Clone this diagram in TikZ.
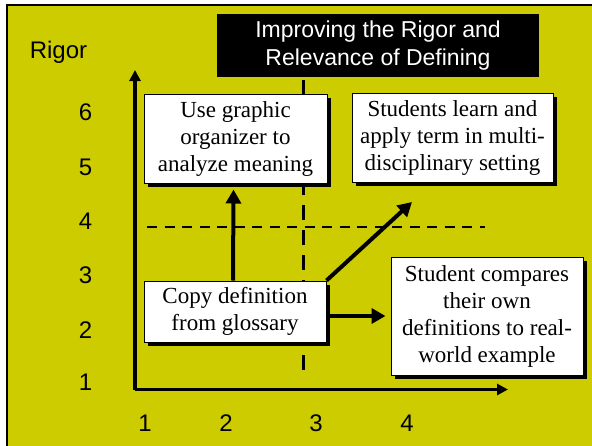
\documentclass[tikz,border=0pt]{standalone}
\usepackage{fontspec}
\setmainfont{Liberation Serif}
\setsansfont{Liberation Sans}
\usetikzlibrary{arrows.meta,shadows}
\definecolor{bgyellow}{RGB}{204,204,0}
\begin{document}
\begin{tikzpicture}[x=1pt,y=-1pt,
  box/.style={draw=black, line width=1pt, fill=white, inner sep=0pt, align=center,
    font=\fontsize{23}{27}\selectfont,
    drop shadow={shadow xshift=4pt, shadow yshift=-4pt, fill=black, opacity=1}},
  lab/.style={font=\sffamily\fontsize{24}{28}\selectfont, inner sep=0pt, anchor=base},
  axisline/.style={line width=3.5pt, -{Triangle[length=11pt,width=11pt]}},
  flow/.style={line width=4pt, -{Triangle[length=14pt,width=15pt]}},
  hguide/.style={line width=2.5pt, dash pattern=on 10pt off 7.5pt},
  vguide/.style={line width=3pt, dash pattern=on 15pt off 10pt}]
\useasboundingbox (0,0) rectangle (592,445);
\fill[white] (0,0) rectangle (592,445);
\filldraw[fill=bgyellow, draw=black, line width=2pt] (7,5) rectangle (610,465);
% title
\node[fill=black, text=white, minimum width=322pt, minimum height=63pt, inner sep=0pt,
  align=center, font=\sffamily\fontsize{23}{28}\selectfont] (title) at (378,45.5)
  {Improving the Rigor and\\Relevance of Defining};
% axis labels
\node[lab] (rigor) at (58.5,58) {Rigor};
\node[lab] (y6) at (85.5,120) {6};
\node[lab] (y5) at (85.5,175) {5};
\node[lab] (y4) at (85.5,229) {4};
\node[lab] (y3) at (85.5,283) {3};
\node[lab] (y2) at (85.5,338) {2};
\node[lab] (y1) at (85.5,390) {1};
\node[lab] (x1) at (145,431) {1};
\node[lab] (x2) at (226,431) {2};
\node[lab] (x3) at (316,431) {3};
\node[lab] (x4) at (407,431) {4};
% guides
\coordinate (hg1) at (147,227);
\coordinate (hg2) at (485,227);
\coordinate (vg1) at (303,80);
\coordinate (vg2) at (303,378);
\draw[hguide] (hg1) -- (hg2);
\draw[vguide] (vg1) -- (vg2);
% axes
\coordinate (origin) at (135,389.5);
\coordinate (ytip) at (135,70);
\coordinate (xtip) at (508,389.5);
\draw[axisline] (origin) -- (ytip);
\draw[axisline] (origin) -- (xtip);
% boxes
\node[box, minimum width=183pt, minimum height=89pt] (A) at (235.5,138.5)
  {Use graphic\\organizer to\\analyze meaning};
\node[box, minimum width=201pt, minimum height=89pt] (B) at (452.5,137.5)
  {Students learn and\\apply term in multi-\\disciplinary setting};
\node[box, minimum width=182pt, minimum height=61pt] (C) at (235,311.5)
  {Copy definition\\from glossary};
\node[box, minimum width=192pt, minimum height=118pt] (D) at (487,316)
  {Student compares\\their own\\definitions to real-\\world example};
% connectors
\coordinate (dtip) at (412,202);
\draw[flow] ([xshift=-2pt]C.north) -- ([xshift=-2pt,yshift=-6pt]A.south);
\draw[flow] (C.north east) -- (dtip);
\draw[flow] ([yshift=-4.5pt]C.east) -- ([xshift=-5pt,yshift=-4.5pt]C.east -| D.west);
\end{tikzpicture}
\end{document}
